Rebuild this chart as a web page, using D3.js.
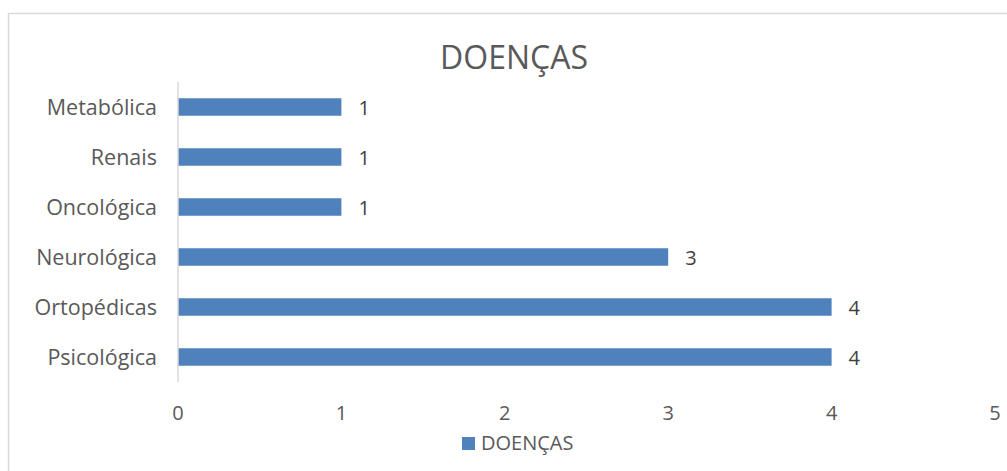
<!DOCTYPE html>
<html>
<head>
<meta charset="utf-8">
<script src="https://cdn.jsdelivr.net/npm/d3@7"></script>
<style>
  body { margin: 0; background: #fff; }
  text { font-family: "Open Sans", sans-serif; }
</style>
</head>
<body>
<svg width="1007" height="471"></svg>
<script>
// Data (top to bottom)
var categories = ['Metabólica', 'Renais', 'Oncológica', 'Neurológica', 'Ortopédicas', 'Psicológica'];
var values = [1, 1, 1, 3, 4, 4];
var xTicks = [0, 1, 2, 3, 4, 5];
var seriesName = 'DOENÇAS';
var title = 'DOENÇAS';

var svg = d3.select('svg');

// Chart frame, left/top edges only visible
svg.append('rect')
  .attr('x', 8.5).attr('y', 13.5)
  .attr('width', 1010).attr('height', 480)
  .attr('fill', 'none')
  .attr('stroke', '#d9d9d9')
  .attr('stroke-width', 1.5);

// Scales
var x = d3.scaleLinear().domain([0, 5]).range([178, 995]);
var y = d3.scaleBand().domain(categories).range([82, 382]).paddingInner(0.65).paddingOuter(0.325);

// Title
svg.append('text')
  .attr('x', 514).attr('y', 69)
  .attr('text-anchor', 'middle')
  .attr('font-size', 32)
  .attr('fill', '#595959')
  .text(title);

// Bars
svg.selectAll('.bar')
  .data(categories).enter()
  .append('rect')
  .attr('class', 'bar')
  .attr('x', x(0))
  .attr('y', d => y(d))
  .attr('width', (d, i) => x(values[i]) - x(0))
  .attr('height', y.bandwidth())
  .attr('fill', '#4f81bd');

// Data labels
svg.selectAll('.lbl')
  .data(categories).enter()
  .append('text')
  .attr('x', (d, i) => x(values[i]) + 17)
  .attr('y', d => y(d) + y.bandwidth() / 2)
  .attr('dy', '0.38em')
  .attr('font-size', 20)
  .attr('fill', '#404040')
  .text((d, i) => values[i]);

// Vertical axis line and category labels
svg.append('line')
  .attr('x1', x(0)).attr('x2', x(0))
  .attr('y1', 82).attr('y2', 382)
  .attr('stroke', '#d9d9d9')
  .attr('stroke-width', 1.5);

svg.selectAll('.cat')
  .data(categories).enter()
  .append('text')
  .attr('x', 157)
  .attr('y', d => y(d) + y.bandwidth() / 2)
  .attr('dy', '0.36em')
  .attr('text-anchor', 'end')
  .attr('font-size', 21.5)
  .attr('fill', '#595959')
  .text(d => d);

// X tick labels
svg.selectAll('.tick')
  .data(xTicks).enter()
  .append('text')
  .attr('x', d => x(d))
  .attr('y', 420)
  .attr('text-anchor', 'middle')
  .attr('font-size', 20)
  .attr('fill', '#595959')
  .text(d => d);

// Legend
svg.append('rect')
  .attr('x', 462).attr('y', 437)
  .attr('width', 13).attr('height', 13)
  .attr('fill', '#4f81bd');
svg.append('text')
  .attr('x', 481).attr('y', 450)
  .attr('font-size', 20)
  .attr('fill', '#595959')
  .text(seriesName);
</script>
</body>
</html>
